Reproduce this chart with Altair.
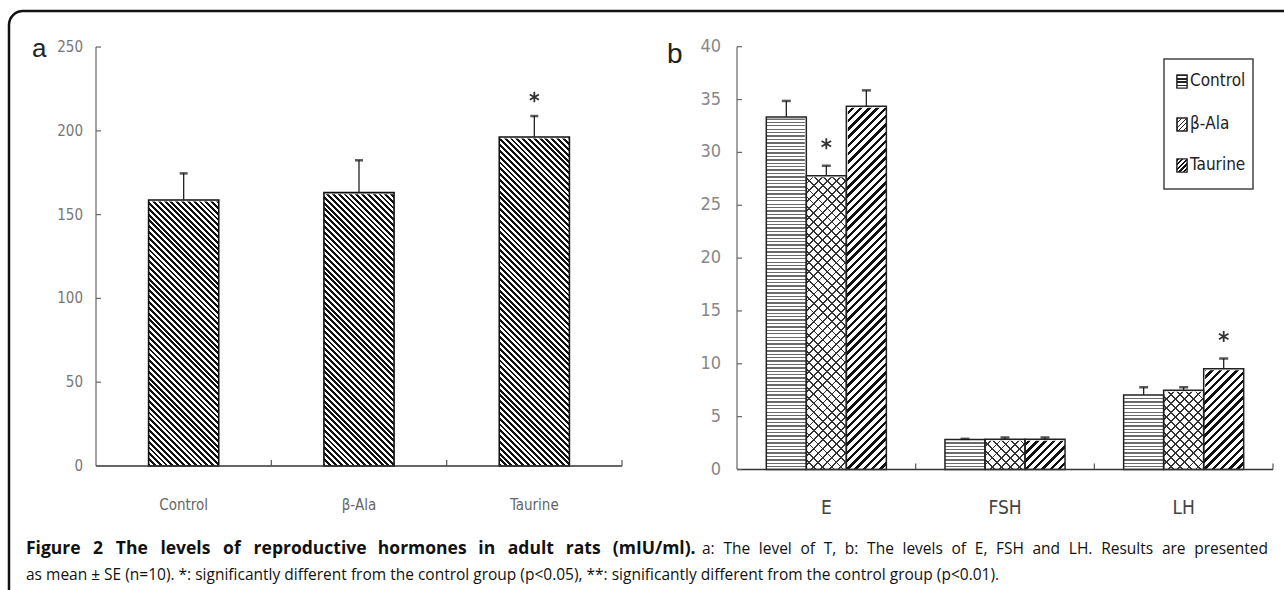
import altair as alt
import pandas as pd

# ---------------- data ----------------
groups_a = ["Control", "β-Ala", "Taurine"]
mean_a = [158.7, 163.1, 196.3]
se_a = [15.9, 19.3, 12.5]
sig_a = ["", "", "*"]
ticks_a = [0, 50, 100, 150, 200, 250]

hormones = ["E", "FSH", "LH"]
treatments = ["Control", "β-Ala", "Taurine"]
mean_E = [33.35, 27.8, 34.36]
se_E = [1.52, 0.94, 1.51]
mean_FSH = [2.85, 2.87, 2.87]
se_FSH = [0.05, 0.16, 0.16]
mean_LH = [7.05, 7.5, 9.52]
se_LH = [0.73, 0.28, 0.98]
sig_E = ["", "*", ""]
sig_FSH = ["", "", ""]
sig_LH = ["", "", "*"]
ticks_b = [0, 5, 10, 15, 20, 25, 30, 35, 40]

caption_bold = "Figure 2 The levels of reproductive hormones in adult rats (mIU/ml)."
caption_rest1 = "a: The level of T, b: The levels of E, FSH and LH. Results are presented"
caption_line2 = ("as mean \u00b1 SE (n=10). *: significantly different from the control group (p<0.05), "
                 "**: significantly different from the control group (p<0.01).")

# ---------------- tables ----------------
df_a = pd.DataFrame({"group": groups_a, "mean": mean_a, "se": se_a, "sig": sig_a})
df_a["top"] = df_a["mean"] + df_a["se"]
df_a["lo"] = 0
df_a["hi"] = 250

rows = []
for h, m, s, g in [("E", mean_E, se_E, sig_E), ("FSH", mean_FSH, se_FSH, sig_FSH), ("LH", mean_LH, se_LH, sig_LH)]:
    for t, mv, sv, gv in zip(treatments, m, s, g):
        rows.append({"hormone": h, "treat": t, "mean": mv, "se": sv, "sig": gv})
df_b = pd.DataFrame(rows)
df_b["top"] = df_b["mean"] + df_b["se"]
df_b["lo"] = 0
df_b["hi"] = 40

df_ta = pd.DataFrame({"v": ticks_a})
df_tb = pd.DataFrame({"v": ticks_b})
one = pd.DataFrame({"k": [0]})

# ---------------- layout / scales ----------------
A_X, A_Y = [96, 622], [466, 47]
B_X, B_Y = [737, 1273], [469.5, 46.7]
xa = alt.Scale(type="band", domain=groups_a, range=A_X, paddingInner=0.6, paddingOuter=0.3)
ya = alt.Scale(domain=[0, 250], range=A_Y, nice=False, zero=False)
xb = alt.Scale(type="band", domain=hormones, range=B_X, paddingInner=0.328, paddingOuter=0.164)
ob = alt.Scale(type="band", domain=treatments, paddingInner=0, paddingOuter=0)
yb = alt.Scale(domain=[0, 40], range=B_Y, nice=False, zero=False)

XA = lambda: alt.X("group:N", scale=xa, axis=None, sort=groups_a)
XB = lambda: alt.X("hormone:N", scale=xb, axis=None, sort=hormones)
OB = lambda: alt.XOffset("treat:N", scale=ob, sort=treatments)

TRANSP = "rgba(255,255,255,0)"
STAR = "M0,-1L0,1M-0.87,-0.5L0.87,0.5M-0.87,0.5L0.87,-0.5"


def hatch(w, h, period, frac, dark, light, kind):
    if kind == "horiz":
        n = max(1, round(h / period))
    else:
        n = max(1, round((w + h) / period))
    stops = []
    for i in range(n):
        t0, t1, t2 = i / n, (i + frac) / n, (i + 1) / n
        stops += [{"offset": round(t0, 6), "color": dark}, {"offset": round(t1, 6), "color": dark},
                  {"offset": round(t1, 6), "color": light}, {"offset": round(t2, 6), "color": light}]
    k = (w + h) / (w * w + h * h)
    if kind == "horiz":
        return {"gradient": "linear", "x1": 0, "y1": 0, "x2": 0, "y2": 1, "stops": stops}
    if kind == "back":  # \\\
        return {"gradient": "linear", "x1": 0, "y1": 1, "x2": k * w, "y2": 1 - k * h, "stops": stops}
    return {"gradient": "linear", "x1": 0, "y1": 0, "x2": k * w, "y2": k * h, "stops": stops}  # ///


wa = (A_X[1] - A_X[0]) / 3 * 0.4
ha = A_Y[0] - A_Y[1]
wb = (B_X[1] - B_X[0]) / 3 * (1 - 0.328) / 3
hb = B_Y[0] - B_Y[1]

grad_a = hatch(wa, ha, 5.8, 0.5, "#111", "#ffffff", "back")
grad_ctrl = hatch(wb, hb, 3.4, 0.4, "#6a6a6a", "#ffffff", "horiz")
grad_ala1 = hatch(wb, hb, 9.0, 0.2, "#333", TRANSP, "fwd")
grad_ala2 = hatch(wb, hb, 9.0, 0.2, "#333", TRANSP, "back")
grad_tau = hatch(wb, hb, 8.2, 0.42, "#111", "#ffffff", "fwd")

COND = "DejaVu Sans Condensed, DejaVu Sans, sans-serif"
layers = []

# ---------------- panel a ----------------
base_a = alt.Chart(df_a)
layers.append(base_a.mark_bar(fill=grad_a).encode(x=XA(), y=alt.Y("hi:Q", scale=ya, axis=None), y2="lo:Q"))
layers.append(base_a.mark_bar(fill="white", stroke="white", strokeWidth=3).encode(
    x=XA(), y=alt.Y("hi:Q", scale=ya, axis=None), y2="mean:Q"))
layers.append(base_a.mark_bar(filled=False, stroke="#111", strokeWidth=1.6).encode(
    x=XA(), y=alt.Y("mean:Q", scale=ya, axis=None), y2="lo:Q"))
layers.append(base_a.mark_rule(color="#222", strokeWidth=1.3).encode(
    x=XA(), y=alt.Y("mean:Q", scale=ya, axis=None), y2="top:Q"))
layers.append(base_a.mark_tick(color="#111", size=8, thickness=2.5).encode(
    x=XA(), y=alt.Y("top:Q", scale=ya, axis=None)))
layers.append(base_a.transform_filter("datum.sig != ''").mark_point(
    shape=STAR, size=110, filled=False, stroke="#333", strokeWidth=1.8, yOffset=-19, opacity=1).encode(
    x=XA(), y=alt.Y("top:Q", scale=ya, axis=None)))

# axes a
layers.append(alt.Chart(one).mark_rule(color="#666", strokeWidth=1.2).encode(
    x=alt.value(A_X[0]), y=alt.value(A_Y[1]), y2=alt.value(A_Y[0])))
layers.append(alt.Chart(one).mark_rule(color="#333", strokeWidth=1.6).encode(
    x=alt.value(A_X[0]), x2=alt.value(A_X[1]), y=alt.value(A_Y[0])))
layers.append(alt.Chart(df_ta).mark_rule(color="#666", strokeWidth=1.2).encode(
    y=alt.Y("v:Q", scale=ya, axis=None), x=alt.value(A_X[0]), x2=alt.value(A_X[0] + 5)))
layers.append(alt.Chart(df_ta).mark_text(align="right", baseline="middle", font=COND, fontSize=15,
                                         color="#777").encode(
    y=alt.Y("v:Q", scale=ya, axis=None), x=alt.value(83), text="v:Q"))
layers.append(base_a.mark_rule(color="#555", strokeWidth=1.2, xOffset=(A_X[1] - A_X[0]) / 6).encode(
    x=XA(), y=alt.value(A_Y[0] - 6), y2=alt.value(A_Y[0])))
layers.append(base_a.mark_text(baseline="middle", font=COND, fontSize=15, color="#666").encode(
    x=XA(), y=alt.value(505), text="group:N"))
layers.append(alt.Chart(one).mark_text(align="left", baseline="alphabetic", font="Liberation Sans",
                                       fontSize=26, color="#222").encode(
    x=alt.value(32), y=alt.value(57), text=alt.value("a")))

# ---------------- panel b ----------------
base_b = alt.Chart(df_b)
YB = lambda f: alt.Y(f, scale=yb, axis=None)
for t, grads in [("Control", [grad_ctrl]), ("β-Ala", [grad_ala1, grad_ala2]), ("Taurine", [grad_tau])]:
    for gr in grads:
        layers.append(base_b.transform_filter(alt.datum.treat == t).mark_bar(fill=gr).encode(
            x=XB(), xOffset=OB(), y=YB("hi:Q"), y2="lo:Q"))
layers.append(base_b.mark_bar(fill="white", stroke="white", strokeWidth=3).encode(
    x=XB(), xOffset=OB(), y=YB("hi:Q"), y2="mean:Q"))
layers.append(base_b.mark_bar(filled=False, stroke="#222", strokeWidth=1.5).encode(
    x=XB(), xOffset=OB(), y=YB("mean:Q"), y2="lo:Q"))
layers.append(base_b.mark_rule(color="#222", strokeWidth=1.3).encode(
    x=XB(), xOffset=OB(), y=YB("mean:Q"), y2="top:Q"))
layers.append(base_b.mark_tick(color="#111", size=9, thickness=2.5).encode(
    x=XB(), xOffset=OB(), y=YB("top:Q")))
layers.append(base_b.transform_filter("datum.sig != ''").mark_point(
    shape=STAR, size=120, filled=False, stroke="#333", strokeWidth=1.8, yOffset=-22, opacity=1).encode(
    x=XB(), xOffset=OB(), y=YB("top:Q")))

# axes b
layers.append(alt.Chart(one).mark_rule(color="#666", strokeWidth=1.2).encode(
    x=alt.value(B_X[0]), y=alt.value(B_Y[1]), y2=alt.value(B_Y[0])))
layers.append(alt.Chart(one).mark_rule(color="#333", strokeWidth=1.6).encode(
    x=alt.value(B_X[0]), x2=alt.value(B_X[1]), y=alt.value(B_Y[0])))
layers.append(alt.Chart(df_tb).mark_rule(color="#666", strokeWidth=1.2).encode(
    y=YB("v:Q"), x=alt.value(B_X[0]), x2=alt.value(B_X[0] + 5)))
layers.append(alt.Chart(df_tb).mark_text(align="right", baseline="middle", font=COND, fontSize=18,
                                         color="#888").encode(
    y=YB("v:Q"), x=alt.value(721), text="v:Q"))
hb_df = pd.DataFrame({"hormone": hormones})
layers.append(alt.Chart(hb_df).mark_rule(color="#555", strokeWidth=1.2, xOffset=(B_X[1] - B_X[0]) / 6).encode(
    x=XB(), y=alt.value(B_Y[0] - 6), y2=alt.value(B_Y[0])))
layers.append(alt.Chart(hb_df).mark_text(baseline="middle", font=COND, fontSize=19, color="#444").encode(
    x=XB(), y=alt.value(508), text="hormone:N"))
layers.append(alt.Chart(one).mark_text(align="left", baseline="alphabetic", font="Liberation Sans",
                                       fontSize=28, color="#222").encode(
    x=alt.value(667), y=alt.value(63), text=alt.value("b")))

# legend b
layers.append(alt.Chart(one).mark_rect(filled=False, stroke="#444", strokeWidth=1.5).encode(
    x=alt.value(1164), x2=alt.value(1253), y=alt.value(59), y2=alt.value(189)))
leg_y = [81, 124, 165]
sw_ctrl = hatch(10, 13, 3.0, 0.45, "#222", "#ffffff", "horiz")
sw_ala1 = hatch(10, 13, 5.0, 0.25, "#222", TRANSP, "fwd")
sw_tau = hatch(10, 13, 5.0, 0.5, "#111", "#ffffff", "fwd")
for yy, grads in zip(leg_y, [[sw_ctrl], [sw_ala1], [sw_tau]]):
    layers.append(alt.Chart(one).mark_rect(fill="white", stroke="#222", strokeWidth=1.2).encode(
        x=alt.value(1177), x2=alt.value(1187), y=alt.value(yy - 6), y2=alt.value(yy + 7)))
    for gr in grads:
        layers.append(alt.Chart(one).mark_rect(fill=gr, stroke="#222", strokeWidth=1.2).encode(
            x=alt.value(1177), x2=alt.value(1187), y=alt.value(yy - 6), y2=alt.value(yy + 7)))
for t, yy in zip(treatments, leg_y):
    layers.append(alt.Chart(one).mark_text(align="left", baseline="middle", font=COND, fontSize=17,
                                           color="#222").encode(
        x=alt.value(1190), y=alt.value(yy), text=alt.value(t)))

# ---------------- caption (justified first line) ----------------
W_REG = {" ": 532, ",": 502, ".": 545, ":": 545, "(": 607, ")": 607, "/": 752, "*": 1098, "=": 1171,
         "<": 1171, "\u00b1": 1171, "-": 659,
         "A": 1296, "B": 1327, "C": 1292, "D": 1493, "E": 1139, "F": 1057, "G": 1491, "H": 1511, "I": 571,
         "L": 1073, "M": 1849, "R": 1274, "S": 1114, "T": 1122, "U": 1503,
         "a": 1139, "b": 1255, "c": 975, "d": 1255, "e": 1149, "f": 694, "g": 1122, "h": 1257, "i": 518,
         "j": 518, "k": 1075, "l": 518, "m": 1905, "n": 1257, "o": 1237, "p": 1255, "q": 1255, "r": 836,
         "s": 977, "t": 723, "u": 1257, "v": 1026, "w": 1593, "x": 1073, "y": 1028, "z": 977}
W_BOLD = {" ": 532, ".": 584, "(": 694, ")": 694, "/": 813, "F": 1141, "T": 1178, "I": 719, "U": 1589,
          "a": 1208, "c": 1016, "d": 1286, "e": 1208, "f": 805, "g": 1128, "h": 1327, "i": 608, "l": 608,
          "m": 1962, "n": 1327, "o": 1255, "p": 1286, "r": 899, "s": 1018, "t": 854, "u": 1327, "v": 1169}


def text_w(s, table, size):
    return sum(table.get(ch, 1171) for ch in s) / 2048 * size


def justify(text, x0, x1, table, size):
    words = text.split(" ")
    widths = [text_w(wd, table, size) for wd in words]
    gap = (x1 - x0 - sum(widths)) / max(1, len(words) - 1)
    out, x = [], x0
    for wd, wdt in zip(words, widths):
        out.append((wd, x))
        x += wdt + gap
    return out


CAP_FONT = "Open Sans"
for wd, xx in justify(caption_bold, 26, 695, W_BOLD, 17.5):
    layers.append(alt.Chart(one).mark_text(align="left", baseline="alphabetic", font=CAP_FONT,
                                           fontWeight="bold", fontSize=17.5, color="#111").encode(
        x=alt.value(round(xx, 1)), y=alt.value(554), text=alt.value(wd)))
for wd, xx in justify(caption_rest1, 702, 1268, W_REG, 15.5):
    layers.append(alt.Chart(one).mark_text(align="left", baseline="alphabetic", font=CAP_FONT,
                                           fontSize=15.5, color="#111").encode(
        x=alt.value(round(xx, 1)), y=alt.value(554), text=alt.value(wd)))
layers.append(alt.Chart(one).mark_text(align="left", baseline="alphabetic", font=CAP_FONT,
                                       fontSize=15.5, color="#111").encode(
    x=alt.value(26), y=alt.value(580), text=alt.value(caption_line2)))

# border
layers.append(alt.Chart(one).mark_rect(filled=False, stroke="#111", strokeWidth=2.5, cornerRadius=14).encode(
    x=alt.value(9), x2=alt.value(1400), y=alt.value(11), y2=alt.value(800)))

chart = alt.layer(*layers).resolve_scale(
    x="independent", y="independent", xOffset="independent"
).properties(
    width=1284, height=590, padding=0, autosize=alt.AutoSizeParams(type="none"), background="white"
).configure_view(stroke=None)

chart.save("out.html", embed_options={"renderer": "svg", "actions": False})
